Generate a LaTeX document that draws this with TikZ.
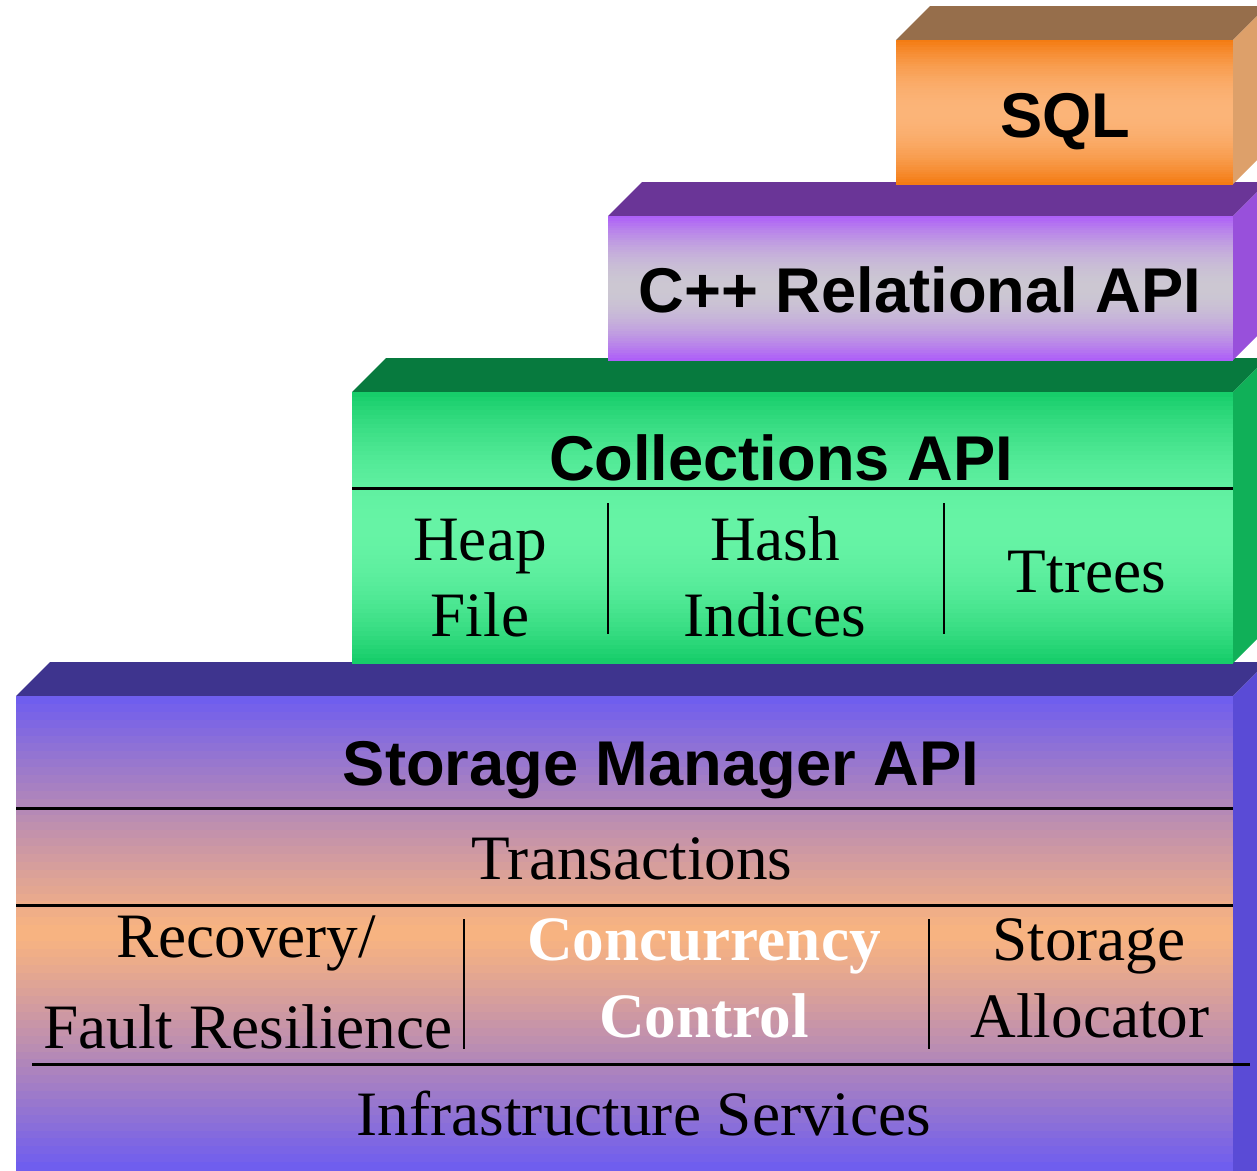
\documentclass[tikz,border=0pt]{standalone}
\usepackage{fontspec}
\setmainfont{Liberation Serif}
\setsansfont{Liberation Sans}
\definecolor{sqltop}{HTML}{966E4B}
\definecolor{sqlside}{HTML}{DDA06A}
\definecolor{sqlfront}{HTML}{F47A10}
\definecolor{sqlmid}{HTML}{FBB478}
\definecolor{reltop}{HTML}{6A3597}
\definecolor{relside}{HTML}{9850DB}
\definecolor{relfront}{HTML}{AD5CF9}
\definecolor{relmid}{HTML}{CCC7D2}
\definecolor{coltop}{HTML}{077A3E}
\definecolor{colside}{HTML}{10B058}
\definecolor{colfront}{HTML}{14CC68}
\definecolor{colmid}{HTML}{66F3A5}
\definecolor{smtop}{HTML}{3E348E}
\definecolor{smside}{HTML}{5A4BD6}
\definecolor{smfront}{HTML}{6D5CF0}
\definecolor{smmid}{HTML}{F9B480}
% front face: x1, y1, x2, y2, edge colour, middle colour, fall-off power
\newcommand{\layerfront}[7]{%
  \pgfmathsetmacro\stripe{(#4-#2)/60}
  \foreach \i in {0,...,59} {
    \pgfmathsetmacro\p{100*(1-abs(2*(\i+0.5)/60-1)^#7)}
    \fill[#6!\p!#5] (#1,{#2+\stripe*\i}) rectangle (#3,{#2+\stripe*(\i+1)+0.6});
  }}
\begin{document}
\begin{tikzpicture}[x=0.02cm,y=-0.02cm,
    title/.style={font=\sffamily\bfseries\fontsize{36}{40}\selectfont,anchor=base,inner sep=0pt},
    part/.style={font=\fontsize{36}{40}\selectfont,anchor=base,inner sep=0pt},
    divider/.style={line width=1.7pt},
    sep/.style={line width=1.2pt}]
  \clip (0,0) rectangle (1257,1170);
  % storage manager layer
  \fill[smtop] (16,696) -- (50,662) -- (1267,662) -- (1233,696) -- cycle;
  \fill[smside] (1233,696) -- (1267,662) -- (1267,1180) -- (1233,1180) -- cycle;
  \layerfront{16}{696}{1233}{1170}{smfront}{smmid}{1.1}
  \draw[divider] (16,808) -- (1233,808);
  \draw[divider] (16,905) -- (1233,905);
  \draw[divider] (32,1064) -- (1250,1064);
  \draw[sep] (464,919) -- (464,1049);
  \draw[sep] (929,919) -- (929,1049);
  \node[title] (sm) at (661,785) {Storage Manager API};
  \node[part] (trans) at (632,879) {Transactions};
  \node[part] (recov) at (246,957) {Recovery/};
  \node[part] (fault) at (248,1048) {Fault Resilience};
  \node[part,text=white,font=\bfseries\fontsize{36}{40}\selectfont] (conc) at (704,960) {Concurrency};
  \node[part,text=white,font=\bfseries\fontsize{36}{40}\selectfont] (ctrl) at (704,1037) {Control};
  \node[part] (stor) at (1089,960) {Storage};
  \node[part] (alloc) at (1090,1037) {Allocator};
  \node[part] (infra) at (644,1135) {Infrastructure Services};
  % collections layer
  \fill[coltop] (352,392) -- (386,358) -- (1267,358) -- (1233,392) -- cycle;
  \fill[colside] (1233,392) -- (1267,358) -- (1267,629) -- (1233,663) -- cycle;
  \layerfront{352}{392}{1233}{663}{colfront}{colmid}{2}
  \draw[divider] (352,488) -- (1233,488);
  \draw[sep] (608,503) -- (608,634);
  \draw[sep] (944,503) -- (944,634);
  \node[title] (coll) at (781,480) {Collections API};
  \node[part] (heap) at (480,560) {Heap};
  \node[part] (file) at (480,636) {File};
  \node[part] (hash) at (775,560) {Hash};
  \node[part] (ind) at (775,636) {Indices};
  \node[part] (ttree) at (1087,592) {Ttrees};
  % relational layer
  \fill[reltop] (608,216) -- (642,182) -- (1267,182) -- (1233,216) -- cycle;
  \fill[relside] (1233,216) -- (1267,182) -- (1267,326) -- (1233,360) -- cycle;
  \layerfront{608}{216}{1233}{360}{relfront}{relmid}{2}
  \node[title] (rel) at (920,312) {C++ Relational API};
  % sql layer
  \fill[sqltop] (896,40) -- (930,6) -- (1267,6) -- (1233,40) -- cycle;
  \fill[sqlside] (1233,40) -- (1267,6) -- (1267,150) -- (1233,184) -- cycle;
  \layerfront{896}{40}{1233}{184}{sqlfront}{sqlmid}{2}
  \node[title] (sql) at (1065,137) {SQL};
\end{tikzpicture}
\end{document}
